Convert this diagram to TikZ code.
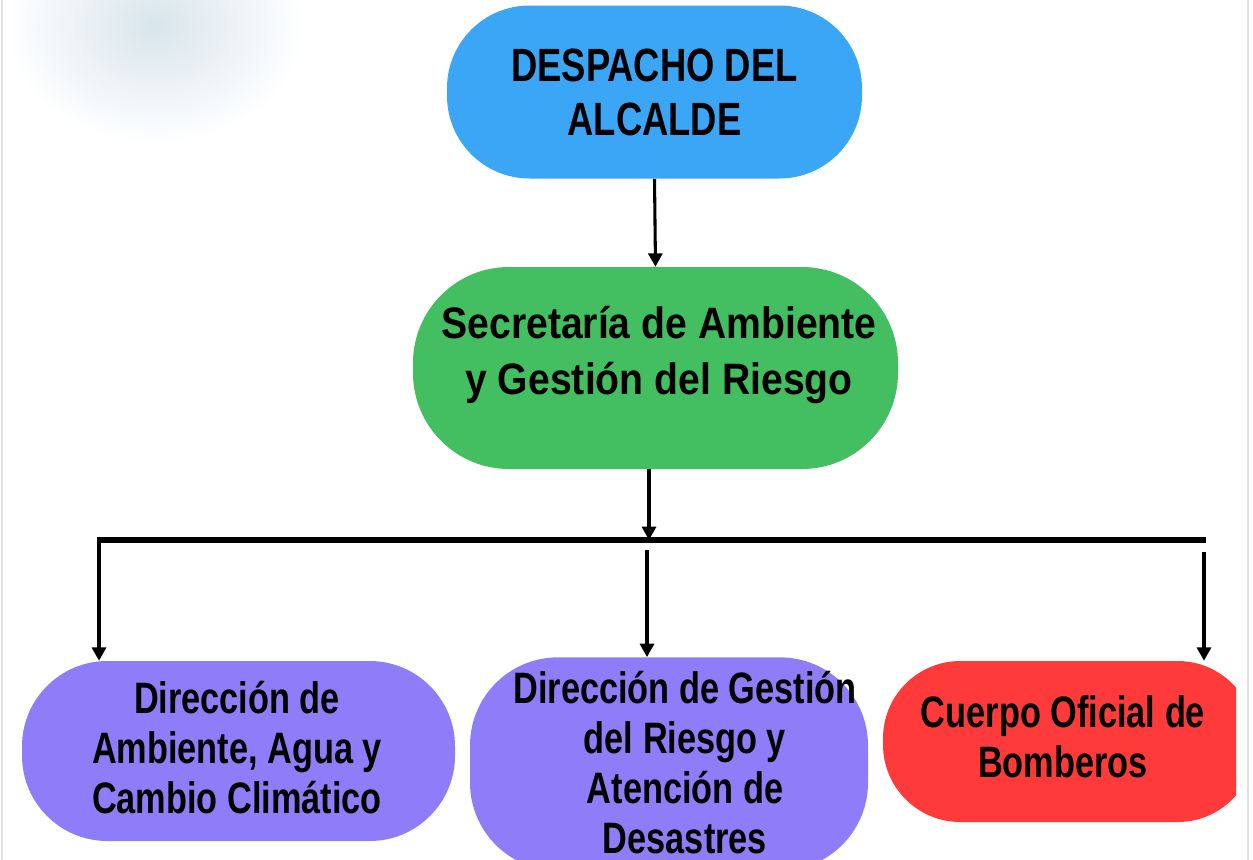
\documentclass[tikz,border=0pt]{standalone}
\usepackage{fontspec}
\newfontfamily\narrowsans[FakeStretch=0.78]{Liberation Sans}
\newfontfamily\widersans[FakeStretch=0.89]{Liberation Sans}
\usetikzlibrary{arrows.meta}
\definecolor{blueBox}{RGB}{59,166,245}
\definecolor{greenBox}{RGB}{67,190,96}
\definecolor{purpleBox}{RGB}{143,124,248}
\definecolor{redBox}{RGB}{255,58,58}
\definecolor{smudgeA}{RGB}{216,229,236}
\definecolor{edgeGray}{RGB}{225,225,225}
\tikzset{
  box/.style={rectangle, inner sep=0pt, draw=none},
  txt/.style={font=\narrowsans\bfseries\fontsize{33}{37.5}\selectfont, align=center, text=black, inner sep=0pt},
  arr/.style={line width=2.3pt, -{Triangle[width=10.5pt,length=10pt]}},
  barline/.style={line width=4pt},
}
\begin{document}
\begin{tikzpicture}[x=0.75pt,y=-0.75pt]
\useasboundingbox (0,0) rectangle (1253,860);
\clip (0,0) rectangle (1253,860);
% faint background smudge
\begin{scope}
\clip (14,0) rectangle (320,200);
\shade[inner color=smudgeA, outer color=white] (155,25) ellipse (150 and 120);
\end{scope}
\draw[edgeGray, line width=1pt] (1248,0) -- (1248,860);
\draw[edgeGray, line width=1pt] (2,0) -- (2,860);
% boxes
\node[box, fill=blueBox, minimum width=311.25pt, minimum height=129.75pt, rounded corners=62pt,
      txt, font=\narrowsans\bfseries\fontsize{35}{40.5}\selectfont] (alc) at (654.5,92) {DESPACHO DEL\\ALCALDE};
\node[box, fill=greenBox, minimum width=363.75pt, minimum height=151.5pt, rounded corners=72pt] (sec) at (655.5,368) {};
\node[txt, font=\widersans\bfseries\fontsize{33}{42}\selectfont] (sect) at (659,355) {Secretaría de Ambiente\\y Gestión del Riesgo};
\node[box, fill=purpleBox, minimum width=324.75pt, minimum height=135pt, rounded corners=64pt] (dam) at (238.5,751) {};
\node[txt] (damt) at (237,748) {Dirección de\\Ambiente, Agua y\\Cambio Climático};
\node[box, fill=purpleBox, minimum width=298.5pt, minimum height=160pt, rounded corners=66pt] (dgr) at (669,764) {};
\node[txt] (dgrt) at (685,763) {Dirección de Gestión\\del Riesgo y\\Atención de\\Desastres};
\begin{scope}
\clip (800,600) rectangle (1236,860);
\node[box, fill=redBox, minimum width=279pt, minimum height=120.75pt, rounded corners=58pt] (bom) at (1069,741.5) {};
\end{scope}
\node[txt] (bomt) at (1063,737) {Cuerpo Oficial de\\Bomberos};
% connectors
\coordinate (barL) at (97,540);
\coordinate (barR) at (1206,540);
\coordinate (barM) at (649,540);
\coordinate (midS) at (647,550);
\coordinate (rgtS) at (1204,552);
\draw[arr] (alc.south) -- (sec.north);
\draw[arr] (sec.south -| barM) -- (barM);
\draw[barline] (barL) -- (barR);
\draw[arr] ([xshift=1.5pt]barL) -- ([xshift=1.5pt]dam.north -| barL);
\draw[arr] (midS) -- (dgr.north -| midS);
\draw[arr] (rgtS) -- (bom.north -| rgtS);
\end{tikzpicture}
\end{document}
